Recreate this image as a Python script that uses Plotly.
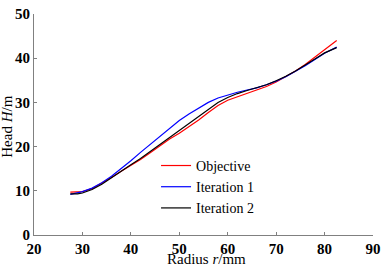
import plotly.graph_objects as go

radius = [27.5, 29, 30, 32, 34, 36, 38, 40, 42, 44, 46, 48, 50, 52, 54, 56, 58, 60,
          62, 64, 66, 68, 70, 72, 74, 76, 78, 80, 82.5]
objective = [9.7, 9.7, 9.8, 10.5, 11.7, 13.0, 14.4, 15.7, 17.1, 18.6, 20.2, 21.7, 23.0,
             24.4, 26.0, 27.7, 29.3, 30.5, 31.3, 32.1, 32.8, 33.6, 34.6, 35.8, 37.1,
             38.6, 40.2, 41.9, 44.0]
iteration1 = [9.2, 9.5, 9.8, 10.6, 11.8, 13.3, 15.0, 16.8, 18.7, 20.5, 22.3, 24.1, 25.9,
              27.4, 28.8, 30.0, 31.0, 31.7, 32.3, 32.8, 33.3, 34.0, 34.8, 35.8, 37.0,
              38.3, 39.7, 41.1, 42.5]
iteration2 = [9.3, 9.3, 9.5, 10.3, 11.5, 12.9, 14.4, 15.9, 17.3, 18.9, 20.5, 22.1, 23.6,
              25.2, 26.8, 28.4, 30.0, 31.1, 32.0, 32.7, 33.3, 34.0, 34.9, 35.9, 37.1,
              38.4, 39.8, 41.2, 42.4]

x_ticks = [20, 30, 40, 50, 60, 70, 80, 90]
y_ticks = [0, 10, 20, 30, 40, 50]

serif = "Liberation Serif"

fig = go.Figure()
fig.add_trace(go.Scatter(x=radius, y=objective, mode="lines", name="Objective",
                         line=dict(color="#ff0000", width=1.2)))
fig.add_trace(go.Scatter(x=radius, y=iteration1, mode="lines", name="Iteration 1",
                         line=dict(color="#0000ff", width=1.2)))
fig.add_trace(go.Scatter(x=radius, y=iteration2, mode="lines", name="Iteration 2",
                         line=dict(color="#000000", width=1.2)))

axis_common = dict(showgrid=False, zeroline=False, showline=True, linecolor="#808080",
                   linewidth=1, ticks="inside", ticklen=3, tickcolor="#808080",
                   ticklabeloverflow="allow",
                   tickfont=dict(family=serif, size=15, color="black", weight="bold"))

fig.update_layout(
    width=387, height=268,
    margin=dict(l=34, r=9, t=6, b=33),
    plot_bgcolor="white", paper_bgcolor="white",
    font=dict(family=serif, color="black"),
    xaxis=dict(range=[20, 90], tickvals=x_ticks, ticktext=[str(v) for v in x_ticks], **axis_common),
    yaxis=dict(range=[0, 50], tickvals=y_ticks, ticktext=[str(v) for v in y_ticks], **axis_common),
    legend=dict(x=0.36, y=0.385, xanchor="left", yanchor="top", bgcolor="rgba(0,0,0,0)",
                font=dict(family=serif, size=14, color="black"), tracegroupgap=0),
    showlegend=True,
    annotations=[
        dict(text="Radius <i>r</i>/mm", xref="paper", yref="paper", x=0.5, y=0,
             yshift=-14, xshift=3, xanchor="center", yanchor="top", showarrow=False,
             font=dict(family=serif, size=15, color="black")),
        dict(text="Head <i>H</i>/m", xref="paper", yref="paper", x=0, y=0.49,
             xshift=-17, xanchor="right", yanchor="middle", showarrow=False, textangle=-90,
             font=dict(family=serif, size=15, color="black")),
    ],
)
fig.write_html("out.html", config={"displayModeBar": False},
               post_script="document.body.style.margin='0';document.body.style.overflow='hidden';")
